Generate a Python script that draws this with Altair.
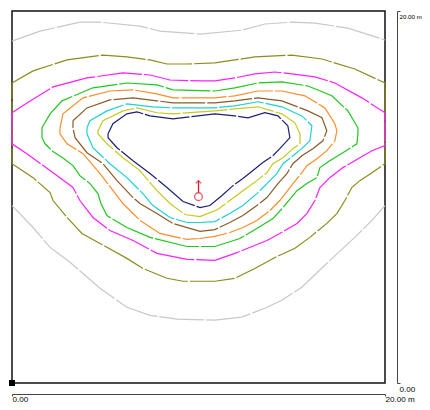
import altair as alt
import pandas as pd

# ---- contour lines (metres) ----
GRAY_TOP_X = [0.0, 1.50, 3.64, 4.72, 6.86, 7.93, 10.08, 12.33, 13.56, 15.01, 16.24, 18.01, 20.0]
GRAY_TOP_Y = [18.38, 18.92, 19.40, 19.40, 19.19, 18.92, 18.76, 18.97, 19.30, 19.40, 19.35, 19.08, 18.44]

GRAY_BOT_X = [0.0, 1.13, 2.04, 3.11, 4.72, 6.16, 7.40, 8.84, 10.88, 12.33, 13.56, 14.47, 15.54, 16.94, 18.38, 19.30, 20.0]
GRAY_BOT_Y = [9.54, 8.36, 7.29, 6.49, 5.09, 4.07, 3.64, 3.43, 3.38, 3.54, 4.02, 4.45, 5.15, 6.49, 7.83, 8.74, 9.54]

OLIVE_X = [0.0, 1.13, 2.95, 4.88, 6.16, 7.40, 8.31, 9.38, 10.88, 11.95, 13.02, 15.01, 16.62, 18.38, 20.0,
           20.0, 19.30, 18.65, 18.22, 17.85, 17.42, 16.88, 15.97, 15.17, 14.10, 13.02, 11.95, 10.88, 9.17, 8.31,
           7.02, 6.16, 4.72, 3.75, 2.95, 2.20, 2.04, 1.13, 0.0, 0.0]
OLIVE_Y = [16.13, 16.78, 17.37, 17.63, 17.53, 17.37, 17.15, 17.15, 17.21, 17.37, 17.53, 17.63, 17.42, 16.88, 16.13,
           11.79, 11.31, 10.88, 10.51, 9.81, 9.11, 8.58, 7.83, 7.24, 6.75, 6.16, 5.63, 5.47, 5.47, 5.63,
           6.16, 6.70, 7.50, 8.04, 8.90, 9.81, 10.24, 11.04, 11.79, 16.13]

MAGENTA_X = [0.0, 0.80, 2.20, 4.02, 5.95, 7.40, 8.47, 10.08, 10.88, 11.95, 13.02, 14.10, 15.01, 16.24, 17.31, 18.76, 20.0,
             20.0, 19.30, 18.65, 17.74, 17.04, 16.51, 16.24, 15.81, 15.28, 14.36, 13.67, 11.95, 10.88, 9.38, 7.77,
             6.49, 5.25, 4.34, 3.64, 3.27, 2.04, 0.80, 0.0, 0.0]
MAGENTA_Y = [14.53, 15.06, 15.92, 16.40, 16.67, 16.56, 16.29, 16.24, 16.24, 16.40, 16.62, 16.72, 16.62, 16.46, 16.13, 15.33, 14.53,
             12.76, 12.49, 12.11, 11.58, 11.04, 10.51, 9.81, 9.11, 8.58, 8.04, 7.66, 6.97, 6.59, 6.65, 6.97,
             7.66, 8.20, 8.90, 9.81, 10.51, 11.42, 12.33, 12.86, 14.53]

GREEN_X = [1.61, 2.04, 2.68, 4.34, 6.16, 7.77, 8.63, 10.88, 11.95, 13.19, 14.47, 15.87, 17.15, 18.01, 18.55,
           18.55, 18.49, 17.74, 17.04, 16.51, 16.35, 15.81, 15.28, 14.53, 13.99, 13.13, 12.22, 10.88, 9.38, 7.40,
           6.16, 5.09, 4.77, 4.61, 4.18, 3.64, 3.27, 2.79, 2.20, 1.77, 1.61, 1.61]
GREEN_Y = [13.72, 14.47, 15.17, 15.87, 16.13, 16.03, 15.76, 15.70, 15.87, 16.13, 16.19, 15.97, 15.44, 14.63, 13.72,
           13.40, 12.86, 12.38, 11.95, 11.58, 11.04, 10.72, 10.34, 9.43, 8.84, 8.31, 7.77, 7.34, 7.34, 7.83,
           8.36, 9.00, 9.65, 10.18, 10.72, 11.15, 11.69, 12.06, 12.44, 12.86, 13.19, 13.72]

ORANGE_X = [2.57, 2.73, 3.81, 5.25, 6.49, 7.77, 8.63, 10.88, 11.95, 13.19, 14.47, 15.70, 16.78, 17.31,
            17.42, 17.31, 16.88, 16.35, 15.81, 15.54, 14.90, 14.36, 13.83, 13.13, 12.38, 11.68, 10.88, 10.08,
            9.38, 7.93, 6.86, 5.95, 4.72, 3.81, 2.95, 2.57, 2.57]
ORANGE_Y = [13.67, 14.47, 15.33, 15.70, 15.76, 15.54, 15.33, 15.33, 15.44, 15.70, 15.70, 15.44, 14.79, 13.94,
            13.56, 13.02, 12.49, 12.06, 11.68, 11.31, 10.51, 9.81, 9.27, 8.74, 8.36, 8.09, 7.88, 7.77,
            7.72, 8.04, 8.74, 9.65, 11.26, 12.33, 12.86, 13.40, 13.67]

BROWN_X = [3.27, 4.02, 5.25, 6.49, 7.77, 8.63, 10.88, 11.95, 13.19, 14.47, 15.87, 16.62,
           16.88, 16.67, 16.13, 15.54, 15.06, 14.74, 14.26, 13.67, 13.13, 12.38, 11.68, 10.88, 10.08, 8.63,
           7.77, 6.86, 6.49, 5.63, 4.88, 4.02, 3.38, 3.27, 3.27]
BROWN_Y = [14.10, 14.79, 15.22, 15.33, 15.17, 15.06, 15.06, 15.17, 15.33, 15.17, 14.63, 14.26,
           13.56, 13.02, 12.60, 12.22, 11.79, 11.26, 10.72, 9.97, 9.54, 9.00, 8.63, 8.25, 8.15, 8.58,
           9.11, 9.65, 9.97, 10.88, 11.79, 12.38, 13.19, 13.72, 14.10]

CYAN_X = [4.02, 4.18, 5.09, 6.16, 7.56, 8.63, 10.88, 11.95, 13.19, 14.47, 15.54, 16.08,
          15.97, 15.54, 15.06, 14.53, 14.20, 13.67, 13.13, 12.38, 11.68, 10.88, 10.08, 9.38, 8.47, 7.56,
          7.02, 6.16, 5.25, 4.34, 4.02, 4.02]
CYAN_Y = [13.72, 14.10, 14.63, 15.01, 14.85, 14.79, 14.79, 14.90, 15.12, 14.85, 14.36, 13.83,
          13.02, 12.60, 12.22, 11.79, 11.26, 10.72, 10.18, 9.54, 9.11, 8.68, 8.63, 8.63, 8.90, 9.54,
          10.18, 11.04, 11.79, 12.65, 13.40, 13.72]

YELLOW_X = [4.61, 4.88, 5.95, 6.70, 7.77, 8.63, 10.88, 11.95, 13.19, 14.47, 15.17, 15.44,
            15.44, 15.06, 14.53, 13.99, 13.67, 13.13, 12.38, 11.68, 11.04, 10.08, 9.27, 8.47, 7.77,
            6.86, 5.95, 5.09, 4.61, 4.61]
YELLOW_Y = [13.56, 14.10, 14.63, 14.79, 14.53, 14.47, 14.63, 14.74, 14.85, 14.47, 13.99, 13.40,
            12.86, 12.60, 12.11, 11.79, 11.31, 10.88, 10.34, 9.81, 9.33, 8.95, 9.06, 9.65, 10.34,
            11.42, 12.11, 12.86, 13.40, 13.56]

NAVY_X = [5.15, 5.41, 6.16, 6.70, 7.40, 8.63, 10.88, 11.95, 12.65, 13.56, 14.26, 14.79, 14.90,
          14.36, 13.99, 13.45, 12.92, 12.38, 11.85, 11.26, 10.61, 10.08,
          9.17, 8.31, 7.40, 6.49, 5.63, 5.15, 5.15]
NAVY_Y = [13.40, 13.94, 14.47, 14.58, 14.36, 14.20, 14.47, 14.36, 14.26, 14.53, 14.36, 13.83, 13.19,
          12.60, 12.22, 11.85, 11.42, 10.99, 10.61, 10.08, 9.54, 9.43,
          9.76, 10.51, 11.26, 11.95, 12.65, 13.19, 13.40]

SEGMENTS = ["gray_top", "gray_bottom", "olive", "magenta", "green", "orange", "brown", "cyan", "yellow", "navy"]
SEGMENT_LEVEL = ["L1", "L1", "L2", "L3", "L4", "L5", "L6", "L7", "L8", "L9"]
LEVELS = ["L1", "L2", "L3", "L4", "L5", "L6", "L7", "L8", "L9"]
LEVEL_COLORS = ["#c8c8c8", "#8c8c1e", "#ff1eff", "#1ec81e", "#ff8c28", "#8c5a28", "#1ed2d2", "#c8c81e", "#1e1e78"]

# luminaire
LUM_X = [10.0]
LUM_Y = [10.02]
LUM_ARROW_TIP = [10.88]

# dimension labels
X_TICKS = [0, 20]
Y_TICKS = [0, 20]

xs = [GRAY_TOP_X, GRAY_BOT_X, OLIVE_X, MAGENTA_X, GREEN_X, ORANGE_X, BROWN_X, CYAN_X, YELLOW_X, NAVY_X]
ys = [GRAY_TOP_Y, GRAY_BOT_Y, OLIVE_Y, MAGENTA_Y, GREEN_Y, ORANGE_Y, BROWN_Y, CYAN_Y, YELLOW_Y, NAVY_Y]
rows = []
for seg, lev, sx, sy in zip(SEGMENTS, SEGMENT_LEVEL, xs, ys):
    for i, (a, b) in enumerate(zip(sx, sy)):
        rows.append({"seg": seg, "level": lev, "i": i, "x": a, "y": b})
df = pd.DataFrame(rows)

xscale = alt.Scale(domain=[0, 20], nice=False, zero=False)
yscale = alt.Scale(domain=[0, 20], nice=False, zero=False)

FONT = "Liberation Sans"
FS = 8.1
xaxis = alt.Axis(values=X_TICKS, orient="bottom", offset=11, title=None, grid=False,
                 labelExpr="datum.value == 20 ? '20.00 m' : '0.00'", labelAlign="left",
                 labelBaseline="top", labelFlush=False, tickSize=2, labelPadding=-1,
                 domainColor="#444444", tickColor="#444444", labelFont=FONT,
                 labelFontSize=FS, labelColor="black")
yaxis = alt.Axis(values=Y_TICKS, orient="right", offset=12, title=None, grid=False,
                 labelExpr="datum.value == 20 ? '20.00 m' : '0.00'", labelAlign="left",
                 labelBaseline="top", labelFlush=False, tickSize=3, labelPadding=-1,
                 labelOffset=2.5,
                 domainColor="#444444", tickColor="#444444", labelFont=FONT,
                 labelFontSize={"condition": {"test": "datum.value == 20", "value": 6.2}, "value": FS},
                 labelColor="black")

lines = alt.Chart(df).mark_line(strokeWidth=1.2, strokeDash=[45, 2], clip=False).encode(
    x=alt.X("x:Q", scale=xscale, axis=xaxis),
    y=alt.Y("y:Q", scale=yscale, axis=yaxis),
    detail="seg:N",
    order="i:Q",
    color=alt.Color("level:N", scale=alt.Scale(domain=LEVELS, range=LEVEL_COLORS), legend=None),
)

lum_df = pd.DataFrame({"x": LUM_X, "y": LUM_Y, "tip": LUM_ARROW_TIP})
lum_circle = alt.Chart(lum_df).mark_point(shape="circle", size=60, filled=False, color="#e8102a", strokeWidth=1.3).encode(
    x=alt.X("x:Q", scale=xscale), y=alt.Y("y:Q", scale=yscale))
lum_shaft = alt.Chart(lum_df).transform_calculate(y0="datum.y + 0.22").mark_rule(color="#e8102a", strokeWidth=1.3).encode(
    x=alt.X("x:Q", scale=xscale), y=alt.Y("y0:Q", scale=yscale), y2="tip:Q")
lum_head = alt.Chart(lum_df).mark_point(shape="M-1,1L0,0L1,1", size=30, filled=False, color="#e8102a", strokeWidth=1.3).encode(
    x=alt.X("x:Q", scale=xscale), y=alt.Y("tip:Q", scale=yscale))

origin_df = pd.DataFrame({"x": [0.0], "y": [0.0]})
origin = alt.Chart(origin_df).mark_point(shape="square", size=36, filled=True, color="black", opacity=1).encode(
    x=alt.X("x:Q", scale=xscale), y=alt.Y("y:Q", scale=yscale))

chart = alt.layer(lines, lum_shaft, lum_head, lum_circle, origin).properties(
    width=373, height=372,
    autosize=alt.AutoSizeParams(type="none"),
    padding={"left": 4, "top": 3, "right": 37, "bottom": 19},
    background="white",
).configure_view(stroke="#111111", strokeWidth=1.5)

chart.save("out.html", embed_options={"renderer": "svg", "actions": False})
